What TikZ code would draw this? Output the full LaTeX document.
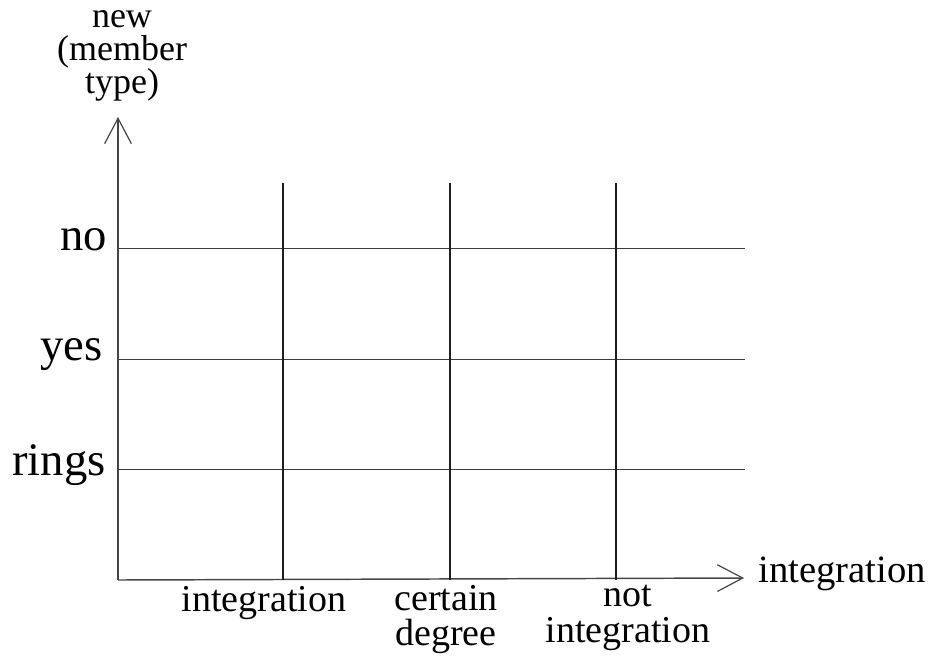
\documentclass[tikz,border=0pt]{standalone}
\usepackage{fontspec}
\setmainfont{Liberation Serif}
\usetikzlibrary{arrows.meta}
\begin{document}
\begin{tikzpicture}[x=0.75pt,y=0.75pt,yscale=-1,xscale=1,
    axisline/.style={color={rgb,255:red,70;green,70;blue,70},line width=1.1pt,
      -{Straight Barb[length=19pt,width=20pt,line width=0.9pt]}},
    gridh/.style={color={rgb,255:red,60;green,60;blue,60},line width=0.75pt},
    gridv/.style={color={rgb,255:red,30;green,30;blue,30},line width=1.3pt},
    lvl/.style={anchor=east,inner sep=0.75pt,font=\fontsize{35}{38}\selectfont},
    cat/.style={anchor=north,inner sep=0.75pt,align=center,font=\fontsize{28.5}{26.5}\selectfont}]
\useasboundingbox (0,0) rectangle (934,657);
%Axes
\draw [axisline] (118,580) -- (118,117);
\draw [axisline] (118,580) -- (744,578);
%Horizontal Lines
\foreach \yy in {248,359,469}
  \draw [gridh] (118,\yy) -- (745,\yy);
%Vertical Lines
\foreach \xx in {283,450,616}
  \draw [gridv] (\xx,183) -- (\xx,580);
% Text Node
\draw (122,56) node [inner sep=0.75pt,align=center,font=\fontsize{27}{25}\selectfont] (ytitle) {new\\(member\\type)};
% Text Node
\draw (108,240) node [lvl] (no) {no};
% Text Node
\draw (104,355) node [lvl] (yes) {yes};
% Text Node
\draw (107,465) node [lvl] (rings) {rings};
% Text Node
\draw (264,585) node [cat] (integ) {integration};
% Text Node
\draw (446,584) node [cat] (certain) {certain\\degree};
% Text Node
\draw (628,584) node [cat] (notinteg) {not\\integration};
% Text Node
\draw (757,574) node [anchor=west,inner sep=0.75pt,font=\fontsize{29}{31}\selectfont] (xtitle) {integration};
\end{tikzpicture}
\end{document}
